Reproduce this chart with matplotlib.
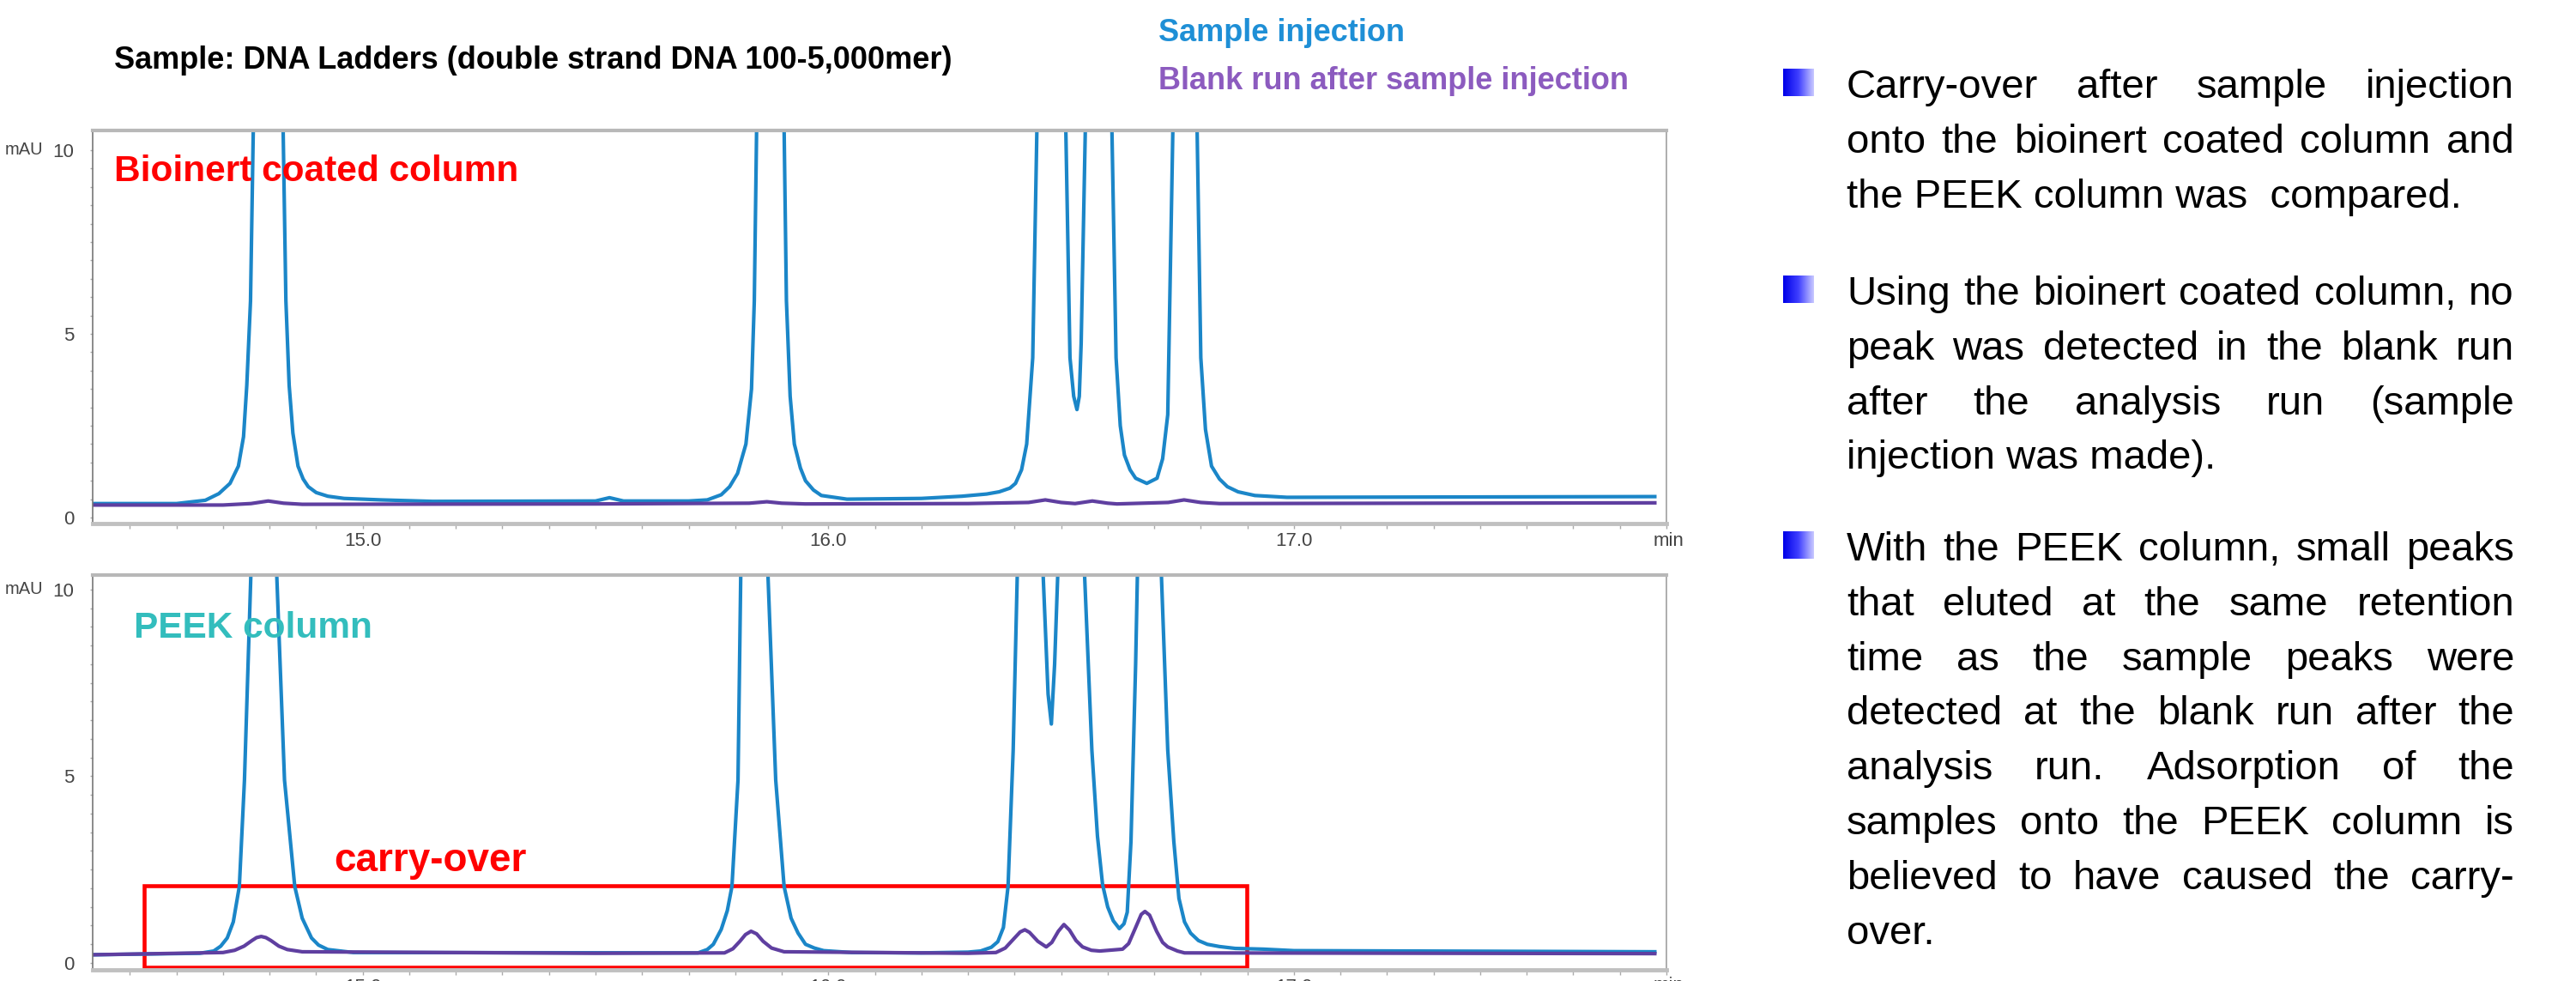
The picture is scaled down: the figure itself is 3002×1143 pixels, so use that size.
import numpy as np
import matplotlib
matplotlib.use('Agg')
import matplotlib.pyplot as plt
from matplotlib.patches import Rectangle

plt.rcParams['font.family'] = ['Liberation Sans', 'DejaVu Sans']

# ---- data (time in min, absorbance in mAU) ----
# upper panel: bioinert coated column
coated_sample_t = [14.42, 14.60, 14.662, 14.691, 14.715, 14.733, 14.744, 14.751, 14.759, 14.765, 14.80,
                   14.829, 14.835, 14.842, 14.850, 14.861, 14.872, 14.883, 14.90, 14.925, 14.96, 15.04,
                   15.15, 15.50, 15.53, 15.56, 15.70, 15.74, 15.77, 15.788, 15.805, 15.823, 15.835,
                   15.841, 15.846, 15.876, 15.905, 15.910, 15.918, 15.927, 15.94, 15.951, 15.968, 15.985,
                   16.04, 16.20, 16.287, 16.34, 16.367, 16.39, 16.402, 16.415, 16.426, 16.439, 16.448,
                   16.475, 16.51, 16.519, 16.527, 16.534, 16.539, 16.543, 16.552, 16.58, 16.609, 16.618,
                   16.627, 16.636, 16.648, 16.66, 16.684, 16.706, 16.718, 16.729, 16.74, 16.766, 16.792,
                   16.80, 16.81, 16.823, 16.84, 16.857, 16.88, 16.916, 16.985, 17.775]
coated_sample_y = [0.38, 0.38, 0.47, 0.65, 0.93, 1.4, 2.2, 3.6, 5.9, 10.6, 14.0,
                   10.6, 5.9, 3.6, 2.3, 1.4, 1.05, 0.84, 0.68, 0.58, 0.52, 0.48,
                   0.44, 0.45, 0.54, 0.45, 0.45, 0.48, 0.62, 0.84, 1.2, 2.0, 3.5,
                   5.9, 10.6, 14.0, 10.6, 5.9, 3.3, 2.0, 1.35, 1.0, 0.75, 0.6,
                   0.5, 0.52, 0.58, 0.64, 0.70, 0.8, 0.93, 1.3, 2.0, 4.35, 10.6,
                   14.0, 10.6, 4.35, 3.3, 2.94, 3.3, 4.74, 10.6, 14.0, 10.6, 4.35,
                   2.5, 1.7, 1.3, 1.07, 0.93, 1.07, 1.6, 2.8, 10.6, 14.0, 10.6,
                   4.35, 2.4, 1.4, 1.05, 0.84, 0.7, 0.6, 0.55, 0.57]
coated_blank_t = [14.42, 14.70, 14.76, 14.797, 14.83, 14.87, 15.50, 15.83, 15.868, 15.90, 15.95,
                  16.30, 16.43, 16.466, 16.50, 16.53, 16.567, 16.60, 16.62, 16.73, 16.764, 16.80,
                  16.84, 17.775]
coated_blank_y = [0.34, 0.34, 0.38, 0.45, 0.39, 0.36, 0.37, 0.39, 0.43, 0.39, 0.37,
                  0.38, 0.41, 0.48, 0.41, 0.38, 0.45, 0.39, 0.37, 0.41, 0.48, 0.41,
                  0.38, 0.40]

# lower panel: PEEK column
peek_sample_t = [14.42, 14.65, 14.68, 14.695, 14.709, 14.722, 14.735, 14.746, 14.76, 14.79, 14.815,
                 14.832, 14.854, 14.87, 14.89, 14.905, 14.925, 14.98, 15.72, 15.74, 15.753, 15.77,
                 15.783, 15.793, 15.806, 15.812, 15.84, 15.87, 15.887, 15.905, 15.92, 15.935, 15.951,
                 15.97, 15.99, 16.05, 16.20, 16.30, 16.327, 16.35, 16.364, 16.376, 16.386, 16.397,
                 16.406, 16.43, 16.461, 16.472, 16.479, 16.486, 16.493, 16.52, 16.55, 16.566, 16.578,
                 16.589, 16.60, 16.612, 16.625, 16.635, 16.642, 16.65, 16.66, 16.664, 16.69, 16.715,
                 16.729, 16.742, 16.753, 16.765, 16.778, 16.795, 16.814, 16.84, 16.874, 16.935, 17.0,
                 17.775]
peek_sample_y = [0.22, 0.26, 0.32, 0.45, 0.67, 1.1, 2.05, 4.9, 10.5, 14.0, 10.5,
                 4.9, 2.05, 1.2, 0.67, 0.48, 0.36, 0.28, 0.27, 0.36, 0.5, 0.9,
                 1.4, 2.05, 4.9, 10.5, 14.0, 10.5, 4.9, 2.05, 1.2, 0.8, 0.5,
                 0.4, 0.33, 0.28, 0.27, 0.29, 0.32, 0.42, 0.57, 0.95, 2.05, 5.7,
                 10.5, 13.0, 10.5, 7.2, 6.4, 8.0, 10.5, 13.0, 10.5, 5.7, 3.4,
                 2.1, 1.5, 1.13, 0.92, 1.05, 1.36, 3.26, 8.0, 10.5, 13.0, 10.5,
                 5.7, 3.26, 1.73, 1.1, 0.8, 0.6, 0.5, 0.44, 0.39, 0.37, 0.33,
                 0.30]
peek_blank_t = [14.42, 14.70, 14.725, 14.745, 14.762, 14.772, 14.782, 14.792, 14.803, 14.82, 14.838,
                14.87, 15.50, 15.777, 15.795, 15.81, 15.822, 15.834, 15.846, 15.86, 15.878, 15.905,
                16.30, 16.36, 16.38, 16.40, 16.412, 16.422, 16.432, 16.45, 16.468, 16.48, 16.494,
                16.506, 16.518, 16.532, 16.546, 16.565, 16.583, 16.632, 16.645, 16.66, 16.672, 16.68,
                16.69, 16.705, 16.718, 16.729, 16.75, 16.765, 17.775]
peek_blank_y = [0.22, 0.28, 0.34, 0.45, 0.6, 0.68, 0.71, 0.68, 0.6, 0.45, 0.36,
                0.3, 0.26, 0.27, 0.38, 0.58, 0.76, 0.85, 0.78, 0.58, 0.4, 0.3,
                0.26, 0.28, 0.4, 0.67, 0.83, 0.89, 0.82, 0.58, 0.43, 0.55, 0.85,
                1.03, 0.88, 0.6, 0.43, 0.34, 0.32, 0.37, 0.52, 0.95, 1.3, 1.38,
                1.28, 0.85, 0.55, 0.43, 0.32, 0.27, 0.25]

x_ticks = [15.0, 16.0, 17.0]
x_tick_labels = ['15.0', '16.0', '17.0']
y_ticks = [0, 5, 10]
y_tick_labels = ['0', '5', '10']

bullet_paragraphs = [
    ["Carry-over after sample injection",
     "onto the bioinert coated column and",
     "the PEEK column was  compared."],
    ["Using the bioinert coated column, no",
     "peak was detected in the blank run",
     "after the analysis run (sample",
     "injection was made)."],
    ["With the PEEK column, small peaks",
     "that eluted at the same retention",
     "time as the sample peaks were",
     "detected at the blank run after the",
     "analysis run. Adsorption of the",
     "samples onto the PEEK column is",
     "believed to have caused the carry-",
     "over."],
]

W, H = 3002, 1143
fig = plt.figure(figsize=(W / 100, H / 100), dpi=100)


def fx(px):
    return px / W


def fy(py):
    return 1 - py / H


sample_color = '#1b86c8'
blank_color = '#5f3fa0'


def style_axes(ax, ylim):
    ax.set_xlim(14.42, 17.775)
    ax.set_ylim(*ylim)
    ax.set_xticks(x_ticks)
    ax.set_xticklabels(x_tick_labels)
    ax.set_xticks(np.arange(14.5, 17.8, 0.1), minor=True)
    ax.set_yticks(y_ticks)
    ax.set_yticklabels(y_tick_labels)
    ax.set_yticks(np.arange(0, 10.01, 0.5), minor=True)
    ax.tick_params(axis='x', which='both', direction='out', length=4, width=1, color='#aaaaaa',
                   pad=3, labelsize=16, labelcolor='#444444')
    ax.tick_params(axis='y', which='both', direction='out', length=2.5, width=1, color='#aaaaaa',
                   pad=13, labelsize=16, labelcolor='#444444')
    ax.spines['top'].set_color('#b8b8b8')
    ax.spines['top'].set_linewidth(3)
    ax.spines['bottom'].set_color('#c0c0c0')
    ax.spines['bottom'].set_linewidth(3.5)
    ax.spines['left'].set_color('#777777')
    ax.spines['left'].set_linewidth(1.2)
    ax.spines['right'].set_color('#a0a0a0')
    ax.spines['right'].set_linewidth(1.2)


# 上: bioinert coated column
ax1 = fig.add_axes([fx(108), fy(610), fx(1942) - fx(108), (610 - 152) / H])
ax1.plot(coated_sample_t, coated_sample_y, color=sample_color, lw=3.0)
ax1.plot(coated_blank_t, coated_blank_y, color=blank_color, lw=3.0)
style_axes(ax1, (-0.164, 10.54))

# 下: PEEK column
ax2 = fig.add_axes([fx(108), fy(1130), fx(1942) - fx(108), (1130 - 670) / H])
ax2.plot(peek_sample_t, peek_sample_y, color=sample_color, lw=3.0)
ax2.plot(peek_blank_t, peek_blank_y, color=blank_color, lw=3.0)
style_axes(ax2, (-0.184, 10.39))
ax2.add_patch(Rectangle((14.53, -0.115), 16.899 - 14.53, 2.07 + 0.115,
                        fill=False, ec='#ff0000', lw=3.3))

# axis unit labels
for y in [175, 687]:
    fig.text(fx(6), fy(y), 'mAU', fontsize=14.5, color='#444444', ha='left', va='center')
for y in [630, 1149]:
    fig.text(fx(1944), fy(y), 'min', fontsize=16, color='#444444', ha='center', va='center')

# titles / legend text
fig.text(fx(133), fy(70), 'Sample: DNA Ladders (double strand DNA 100-5,000mer)',
         fontsize=26, fontweight='bold', color='black', ha='left', va='center')
fig.text(fx(1350), fy(39), 'Sample injection', fontsize=26, fontweight='bold',
         color='#1e8fd6', ha='left', va='center')
fig.text(fx(1350), fy(94), 'Blank run after sample injection', fontsize=26, fontweight='bold',
         color='#8c5bbf', ha='left', va='center')
fig.text(fx(133), fy(200), 'Bioinert coated column', fontsize=30.5, fontweight='bold',
         color='#ff0000', ha='left', va='center')
fig.text(fx(156), fy(732), 'PEEK column', fontsize=30.5, fontweight='bold',
         color='#33bdbd', ha='left', va='center')
fig.text(fx(389), fy(1003), 'carry-over', fontsize=33, fontweight='bold',
         color='#ff0000', ha='left', va='center')

# right-hand bullet text, justified
renderer = fig.canvas.get_renderer()
x_left, x_right = 2152, 2930
first_line_y = [102, 343, 641]
line_step = 63.8
grad = np.linspace(0, 1, 64).reshape(1, -1)
bullet_cmap = matplotlib.colors.LinearSegmentedColormap.from_list('b', ['#0000e8', '#4040ff', '#c8c8ff'])

for para, y0 in zip(bullet_paragraphs, first_line_y):
    bax = fig.add_axes([fx(2078), fy(y0 - 6 + 16), 36 / W, 32 / H])
    bax.imshow(grad, cmap=bullet_cmap, aspect='auto')
    bax.axis('off')
    for i, line in enumerate(para):
        y = fy(y0 + i * line_step)
        if i == len(para) - 1:
            fig.text(fx(x_left), y, line, fontsize=34, color='black', ha='left', va='center')
            continue
        words = line.split()
        texts = [fig.text(0, y, w, fontsize=34, color='black', ha='left', va='center') for w in words]
        widths = [t.get_window_extent(renderer).width for t in texts]
        gap = (x_right - x_left - sum(widths)) / (len(words) - 1)
        x = x_left
        for t, w in zip(texts, widths):
            t.set_x(fx(x))
            x += w + gap

plt.savefig('out.png', dpi=100)
